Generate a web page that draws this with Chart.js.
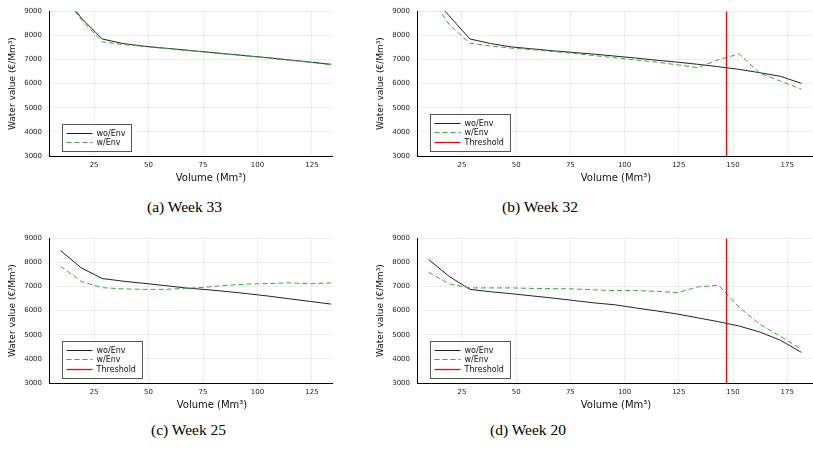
<!DOCTYPE html>
<html>
<head>
<meta charset="utf-8">
<script src="https://cdn.jsdelivr.net/npm/chart.js@4/dist/chart.umd.min.js"></script>
<style>
  body { margin: 0; background: #fff; width: 813px; height: 453px; position: relative; overflow: hidden; }
  canvas { position: absolute; }
  .xt { position: absolute; font: 10px 'DejaVu Sans'; color: #111; transform: translate(-50%, -50%); white-space: nowrap; }
  .cap { position: absolute; font: 15.5px 'Liberation Serif'; line-height: 1; color: #000; white-space: nowrap; }
</style>
</head>
<body>
<canvas id="wk33" style="left:0;top:0" width="340" height="175"></canvas>
<canvas id="wk32" style="left:368px;top:0" width="445" height="175"></canvas>
<canvas id="wk25" style="left:0;top:227px" width="340" height="175"></canvas>
<canvas id="wk20" style="left:368px;top:227px" width="445" height="175"></canvas>

<div class="xt" style="left:211px;top:177px">Volume (Mm³)</div>
<div class="xt" style="left:616px;top:177px">Volume (Mm³)</div>
<div class="xt" style="left:212px;top:404px">Volume (Mm³)</div>
<div class="xt" style="left:616px;top:404px">Volume (Mm³)</div>

<div class="cap" style="left:147px;top:199px">(a) Week 33</div>
<div class="cap" style="left:502px;top:199px">(b) Week 32</div>
<div class="cap" style="left:151px;top:422px">(c) Week 25</div>
<div class="cap" style="left:490px;top:422px">(d) Week 20</div>

<script>
// storage volume grid (Mm3)
const volumes = [9.6, 19.1, 28.7, 38.2, 47.8, 57.3, 66.9, 76.4, 86.0, 95.5, 105.1, 114.6, 124.2, 133.7, 143.3, 152.8, 162.4, 171.9, 181.5];

// water values (EUR/Mm3)
const woEnvW33 = [9830, 8720, 7850, 7660, 7550, 7470, 7390, 7310, 7230, 7150, 7070, 6980, 6890, 6800];
const wEnvW33  = [9800, 8650, 7730, 7620, 7540, 7460, 7380, 7300, 7220, 7140, 7060, 6970, 6880, 6780];

const woEnvW32 = [9760, 8810, 7850, 7660, 7520, 7440, 7360, 7290, 7220, 7140, 7060, 6970, 6890, 6800, 6700, 6590, 6450, 6300, 6010];
const wEnvW32  = [9700, 8450, 7670, 7560, 7470, 7410, 7330, 7250, 7160, 7070, 6980, 6890, 6780, 6660, 6990, 7230, 6430, 6100, 5770];

const woEnvW25 = [8490, 7770, 7330, 7220, 7130, 7040, 6940, 6870, 6790, 6700, 6600, 6490, 6380, 6270];
const wEnvW25  = [7840, 7210, 6950, 6900, 6880, 6880, 6920, 6970, 7050, 7100, 7120, 7150, 7110, 7150];

const woEnvW20 = [8120, 7420, 6880, 6780, 6700, 6610, 6520, 6420, 6320, 6240, 6110, 5990, 5860, 5700, 5540, 5360, 5110, 4770, 4270];
const wEnvW20  = [7590, 7110, 6940, 6940, 6940, 6920, 6910, 6900, 6860, 6830, 6830, 6800, 6740, 6980, 7050, 6140, 5430, 4930, 4400];

const threshold = 147;

const yTicks = [3000, 4000, 5000, 6000, 7000, 8000, 9000];
const xTicksShort = [25, 50, 75, 100, 125];
const xTicksLong = [25, 50, 75, 100, 125, 150, 175];
const xLimShort = [4.3, 134.2];
const xLimLong = [4.3, 186.4];

const FONT = 'DejaVu Sans';

function pts(vals) {
    return vals.map((v, i) => ({ x: volumes[i], y: v }));
}

// legend box drawn inside the plot, lower left
const boxLegend = {
    id: 'boxLegend',
    afterDraw(chart) {
        const ctx = chart.ctx, area = chart.chartArea;
        const items = chart.data.datasets;
        ctx.save();
        ctx.font = '8px "' + FONT + '"';
        const textW = Math.max(...items.map(d => ctx.measureText(d.label).width));
        const w = Math.round(34.5 + textW + 6), h = Math.round(items.length * 9.5 + 8);
        const x = Math.round(area.left + 13), y = Math.round(area.bottom - 5 - h);
        ctx.fillStyle = '#fff';
        ctx.fillRect(x, y, w, h);
        ctx.strokeStyle = '#555';
        ctx.lineWidth = 1;
        ctx.strokeRect(x + 0.5, y + 0.5, w, h);
        items.forEach((d, i) => {
            const ry = Math.round(y + 8.7 + i * 9.5) + 0.5;
            ctx.beginPath();
            ctx.setLineDash(d.borderDash || []);
            ctx.strokeStyle = d.borderColor;
            ctx.lineWidth = d.borderWidth;
            ctx.moveTo(x + 4.5, ry);
            ctx.lineTo(x + 30.5, ry);
            ctx.stroke();
            ctx.setLineDash([]);
            ctx.fillStyle = '#111';
            ctx.textBaseline = 'middle';
            ctx.fillText(d.label, x + 34.5, ry);
        });
        ctx.restore();
    }
};

function drawPanel(id, woVals, wVals, xLim, xTicks, showThreshold, padRight) {
    const datasets = [
        { label: 'wo/Env', data: pts(woVals), borderColor: '#222', borderWidth: 1, order: 3 },
        { label: 'w/Env', data: pts(wVals), borderColor: '#3da63d', borderWidth: 1, borderDash: [5, 3], order: 2 }
    ];
    if (showThreshold) {
        datasets.push({
            label: 'Threshold',
            data: [{ x: threshold, y: yTicks[0] }, { x: threshold, y: yTicks[yTicks.length - 1] }],
            borderColor: '#ff0000', borderWidth: 1.3, order: 1
        });
    }
    new Chart(document.getElementById(id), {
        type: 'line',
        data: { datasets: datasets },
        options: {
            responsive: false,
            animation: false,
            events: [],
            elements: { point: { radius: 0 }, line: { tension: 0 } },
            layout: { padding: { top: 11, right: padRight, bottom: 0, left: 0 } },
            plugins: { legend: { display: false }, tooltip: { enabled: false } },
            scales: {
                x: {
                    type: 'linear',
                    min: xLim[0],
                    max: xLim[1],
                    afterBuildTicks: s => { s.ticks = xTicks.map(v => ({ value: v })); },
                    afterFit: s => { s.height = 19; },
                    grid: { color: 'rgba(0,0,0,0.07)', drawTicks: false },
                    border: { color: '#000', width: 1 },
                    ticks: { font: { family: FONT, size: 7 }, color: '#222', padding: 5, maxRotation: 0, callback: v => String(v) }
                },
                y: {
                    type: 'linear',
                    min: yTicks[0],
                    max: yTicks[yTicks.length - 1],
                    afterBuildTicks: s => { s.ticks = yTicks.map(v => ({ value: v })); },
                    afterFit: s => { s.width = 49; },
                    grid: { color: 'rgba(0,0,0,0.07)', drawTicks: false },
                    border: { color: '#000', width: 1 },
                    ticks: { font: { family: FONT, size: 7 }, color: '#222', padding: 7, callback: v => String(v) },
                    title: {
                        display: true,
                        text: 'Water value (€/Mm³)',
                        font: { family: FONT, size: 9 },
                        color: '#111',
                        padding: { top: 7, bottom: 0 }
                    }
                }
            }
        },
        plugins: [boxLegend]
    });
}

drawPanel('wk33', woEnvW33, wEnvW33, xLimShort, xTicksShort, false, 8);
drawPanel('wk32', woEnvW32, wEnvW32, xLimLong, xTicksLong, true, 1);
drawPanel('wk25', woEnvW25, wEnvW25, xLimShort, xTicksShort, true, 8);
drawPanel('wk20', woEnvW20, wEnvW20, xLimLong, xTicksLong, true, 1);
</script>
</body>
</html>
